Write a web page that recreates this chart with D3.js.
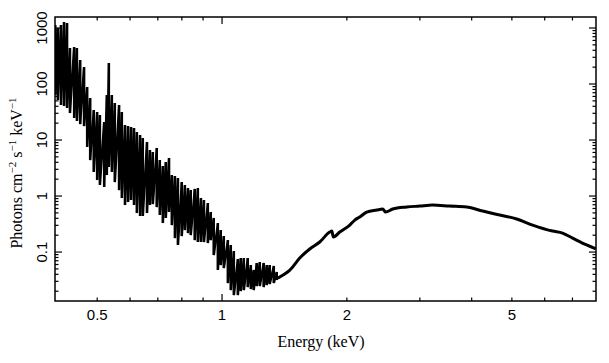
<!DOCTYPE html>
<html>
<head>
<meta charset="utf-8">
<script src="https://cdn.jsdelivr.net/npm/d3@7"></script>
<style>
  body { margin: 0; background: #fff; }
  .tick text { font-family: "Liberation Sans", Arial, Helvetica, sans-serif; font-size: 15px; fill: #000; }
  .title { font-family: "Liberation Serif", "Times New Roman", serif; font-size: 16px; fill: #000; }
</style>
</head>
<body>
<svg id="spec" width="609" height="363"></svg>
<script>
// unfolded spectrum, log-log

// soft band: channel energy (keV) and top / bottom of the error bars
var softE = [0.397, 0.403, 0.410, 0.417, 0.424, 0.431, 0.441, 0.448, 0.456, 0.466,
             0.474, 0.482, 0.492, 0.501, 0.509, 0.521, 0.529, 0.535, 0.544, 0.553,
             0.566, 0.575, 0.585, 0.595, 0.605, 0.615, 0.625, 0.636, 0.646, 0.661,
             0.672, 0.683, 0.698, 0.710, 0.722, 0.734, 0.747, 0.759, 0.772, 0.785,
             0.802, 0.816, 0.830, 0.843, 0.862, 0.877, 0.892, 0.907, 0.927, 0.942,
             0.958, 0.980, 0.996, 1.013, 1.036, 1.053, 1.071, 1.095, 1.113, 1.132,
             1.157, 1.177, 1.196, 1.216, 1.237, 1.264, 1.286, 1.307, 1.337, 1.359];
var softHi = [1108, 980, 1108, 1254, 1203, 430, 448, 430, 263, 197,
              86.6, 55.1, 33.6, 31.0, 27.4, 20.5, 62.3, 232, 62.3, 44.9,
              41.3, 31.0, 18.2, 17.4, 16.7, 16.0, 13.6, 12.0, 10.6, 9.0,
              6.49, 5.98, 7.05, 4.30, 3.36, 3.97, 4.67, 2.32, 2.23, 2.05,
              1.74, 1.54, 1.36, 1.25, 1.31, 1.36, 0.902, 0.831, 0.735, 0.508,
              0.397, 0.323, 0.242, 0.189, 0.160, 0.131, 0.102, 0.0735, 0.0766, 0.0766,
              0.0766, 0.0574, 0.0468, 0.0623, 0.0649, 0.0623, 0.0574, 0.0574, 0.0551, 0.0431];
var softLo = [62.3, 50.7, 41.3, 39.6, 36.5, 29.7, 24.2, 21.4, 18.9, 17.4,
              7.35, 4.30, 2.63, 1.89, 1.54, 1.42, 2.32, 3.23, 2.63, 1.74,
              1.25, 0.902, 0.677, 0.765, 0.831, 0.677, 0.487, 0.431, 0.431, 0.487,
              0.677, 0.705, 0.623, 0.449, 0.323, 0.397, 0.508, 0.297, 0.174, 0.131,
              0.189, 0.242, 0.214, 0.197, 0.160, 0.148, 0.148, 0.148, 0.142, 0.160,
              0.0866, 0.0468, 0.0574, 0.0507, 0.0274, 0.0205, 0.0167, 0.0167, 0.0197, 0.0205,
              0.0232, 0.0214, 0.0205, 0.0242, 0.0242, 0.0232, 0.0252, 0.0263, 0.0274, 0.0310];

// hard band, smooth
var hardE = [1.367, 1.420, 1.461, 1.544, 1.632, 1.725, 1.824, 1.845, 1.860, 1.928,
             2.038, 2.096, 2.154, 2.239, 2.367, 2.447, 2.488, 2.587, 2.796, 3.005,
             3.230, 3.549, 3.900, 4.263, 4.685, 5.149, 5.626, 6.285, 6.644, 7.023,
             7.592, 7.99];
var hardF = [0.0336, 0.0397, 0.0468, 0.0766, 0.111, 0.148, 0.223, 0.232, 0.182, 0.223,
             0.297, 0.365, 0.413, 0.507, 0.551, 0.574, 0.507, 0.574, 0.623, 0.649,
             0.677, 0.649, 0.623, 0.529, 0.449, 0.381, 0.297, 0.232, 0.214, 0.174,
             0.131, 0.112];

var xLabels = [0.5, 1, 2, 5];
var xMinor = [0.5, 0.6, 0.7, 0.8, 0.9, 2, 3, 4, 5, 6, 7];
var xMajor = [1];
var yLabels = [0.1, 1, 10, 100, 1000];
var yMinor = [0.02, 0.03, 0.04, 0.05, 0.06, 0.07, 0.08, 0.09,
              0.2, 0.3, 0.4, 0.5, 0.6, 0.7, 0.8, 0.9,
              2, 3, 4, 5, 6, 7, 8, 9,
              20, 30, 40, 50, 60, 70, 80, 90,
              200, 300, 400, 500, 600, 700, 800, 900];

var margin = {top: 17, right: 13, bottom: 62, left: 55};
var svg = d3.select("#spec");
var width = 609 - margin.left - margin.right;
var height = 363 - margin.top - margin.bottom;

var g = svg.append("g")
    .attr("transform", "translate(" + margin.left + "," + margin.top + ")");

var x = d3.scaleLog().domain([0.3966, 8.0]).range([0, width]);
var y = d3.scaleLog().domain([0.0131, 1540]).range([height, 0]);

// clip so nothing spills out of the frame
g.append("clipPath").attr("id", "clip")
  .append("rect").attr("width", width).attr("height", height);

// ticks, pointing inward on all four sides
function ticks(axis, vals, len, tr) {
    var a = g.append("g")
        .attr("transform", tr)
        .call(axis.tickValues(vals).tickSize(len).tickFormat(""));
    a.select(".domain").remove();
    a.selectAll("line").attr("stroke", "#000").attr("stroke-width", 1.2);
}
ticks(d3.axisBottom(x), xMinor, -3.5, "translate(0," + height + ")");
ticks(d3.axisBottom(x), xMajor, -7, "translate(0," + height + ")");
ticks(d3.axisTop(x), xMinor, -3.5, "translate(0,0)");
ticks(d3.axisTop(x), xMajor, -7, "translate(0,0)");
ticks(d3.axisLeft(y), yMinor, -3.5, "translate(0,0)");
ticks(d3.axisLeft(y), yLabels, -7, "translate(0,0)");
ticks(d3.axisRight(y), yMinor, -3.5, "translate(" + width + ",0)");
ticks(d3.axisRight(y), yLabels, -7, "translate(" + width + ",0)");

// tick labels
var xl = g.append("g")
    .attr("transform", "translate(0," + height + ")")
    .call(d3.axisBottom(x).tickValues(xLabels).tickSize(0).tickPadding(0)
        .tickFormat(function(d) { return String(d); }));
xl.select(".domain").remove();
xl.selectAll("text").attr("dy", null).attr("y", 19);

var yl = g.append("g")
    .call(d3.axisLeft(y).tickValues(yLabels).tickSize(0)
        .tickFormat(function(d) { return String(d); }));
yl.select(".domain").remove();
yl.selectAll("text")
    .attr("x", null).attr("dy", null)
    .attr("text-anchor", "middle")
    .attr("transform", "translate(-8.5,0) rotate(-90)");

// spectrum
var spec = g.append("g").attr("clip-path", "url(#clip)");

// error bars of the soft channels
spec.selectAll("line.err")
    .data(softE)
    .enter().append("line")
    .attr("class", "err")
    .attr("x1", function(d) { return x(d); })
    .attr("x2", function(d) { return x(d); })
    .attr("y1", function(d, i) { return y(softHi[i]); })
    .attr("y2", function(d, i) { return y(softLo[i]); })
    .attr("stroke", "#000")
    .attr("stroke-width", 2.2);

var zig = [];
softE.forEach(function(e, i) {
    zig.push([e, softHi[i]]);
    zig.push([e, softLo[i]]);
});
var line = d3.line()
    .x(function(d) { return x(d[0]); })
    .y(function(d) { return y(d[1]); });

spec.append("path")
    .datum(zig)
    .attr("fill", "none")
    .attr("stroke", "#000")
    .attr("stroke-width", 2.4)
    .attr("d", line);

var smooth = d3.line()
    .curve(d3.curveMonotoneX)
    .x(function(d) { return x(d[0]); })
    .y(function(d) { return y(d[1]); });

spec.append("path")
    .datum(hardE.map(function(e, i) { return [e, hardF[i]]; }))
    .attr("fill", "none")
    .attr("stroke", "#000")
    .attr("stroke-width", 3)
    .attr("stroke-linejoin", "round")
    .attr("d", smooth);

// frame
g.append("rect")
    .attr("width", width)
    .attr("height", height)
    .attr("fill", "none")
    .attr("stroke", "#000")
    .attr("stroke-width", 1.5);

// axis titles
svg.append("text")
    .attr("class", "title")
    .attr("x", 321)
    .attr("y", 347)
    .attr("text-anchor", "middle")
    .text("Energy (keV)");

var yt = svg.append("text")
    .attr("class", "title")
    .attr("text-anchor", "middle")
    .attr("transform", "translate(22,173) rotate(-90)");
yt.append("tspan").text("Photons cm");
yt.append("tspan").attr("dy", -6).attr("font-size", "11px").text("\u22122");
yt.append("tspan").attr("dy", 6).text(" s");
yt.append("tspan").attr("dy", -6).attr("font-size", "11px").text("\u22121");
yt.append("tspan").attr("dy", 6).text(" keV");
yt.append("tspan").attr("dy", -6).attr("font-size", "11px").text("\u22121");
</script>
</body>
</html>
